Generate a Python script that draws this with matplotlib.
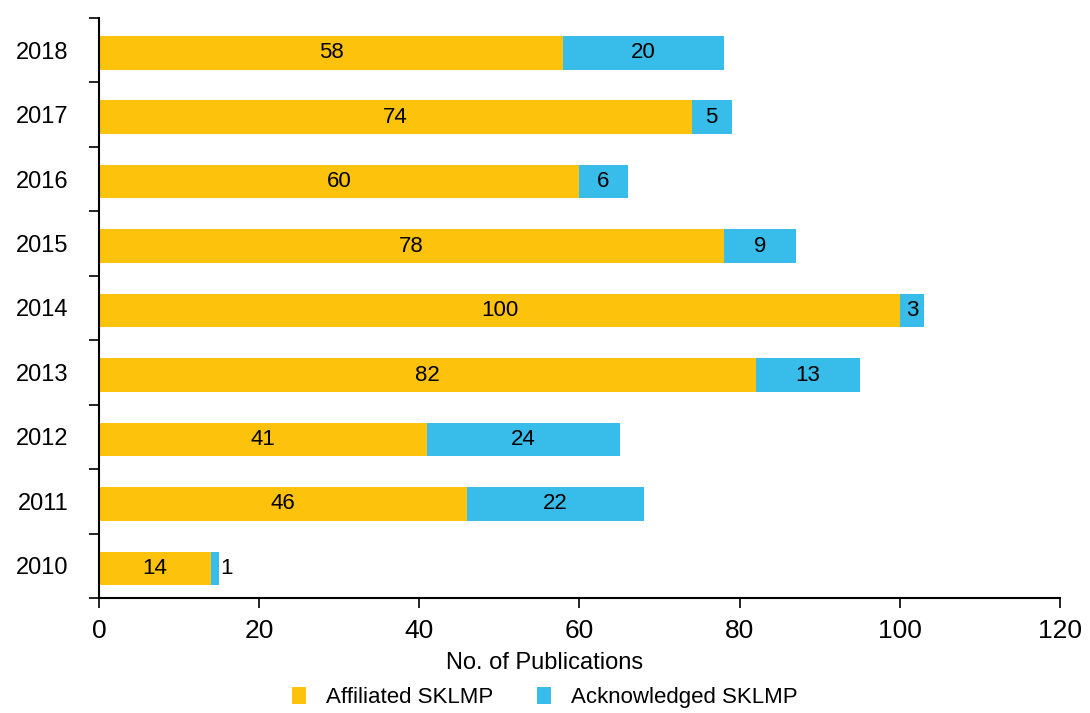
import matplotlib.pyplot as plt
import numpy as np

plt.rcParams["font.family"] = ["Liberation Sans", "DejaVu Sans"]

years = ["2010", "2011", "2012", "2013", "2014", "2015", "2016", "2017", "2018"]
affiliated = [14, 46, 41, 82, 100, 78, 60, 74, 58]
acknowledged = [1, 22, 24, 13, 3, 9, 6, 5, 20]

gold = "#FCC20C"
blue = "#38BCE9"

fig = plt.figure(figsize=(10.9, 7.13), dpi=100)
ax = fig.add_axes([0.0908, 0.1613, 0.8817, 0.8135])

y = np.arange(len(years))
h = 0.52
ax.barh(y - 0.04, affiliated, height=h, color=gold, label="Affiliated SKLMP")
ax.barh(y - 0.04, acknowledged, left=affiliated, height=h, color=blue,
        label="Acknowledged SKLMP")

for yi, a, b in zip(y - 0.04, affiliated, acknowledged):
    ax.text(a / 2, yi, str(a), ha="center", va="center", fontsize=16)
    if b >= 3:
        ax.text(a + b / 2, yi, str(b), ha="center", va="center", fontsize=16)
    else:
        ax.text(a + b + 0.2, yi, str(b), ha="left", va="center", fontsize=16)

ax.set_xlim(0, 120)
ax.set_ylim(-0.5, len(years) - 0.5)
ax.set_xticks(range(0, 121, 20))
ax.tick_params(axis="x", labelsize=19, length=7, width=1.2, direction="out",
               pad=8)
ax.set_yticks(y)
ax.set_yticklabels(years)
ax.tick_params(axis="y", which="major", length=0, labelsize=17, pad=22)
ax.set_yticks(np.arange(-0.5, len(years)), minor=True)
ax.tick_params(axis="y", which="minor", length=7, width=1.2, direction="out")

for side in ("top", "right"):
    ax.spines[side].set_visible(False)
for side in ("left", "bottom"):
    ax.spines[side].set_linewidth(1.5)

ax.set_xlabel("No. of Publications", fontsize=17)
ax.xaxis.set_label_coords(0.464, -0.112)
ax.xaxis.label.set_va("center")
ax.legend(loc="center", bbox_to_anchor=(0.464, -0.172), ncol=2,
          frameon=False, fontsize=16, handlelength=0.6, handleheight=0.75,
          columnspacing=2.0, handletextpad=0.9)

fig.savefig("out.png", dpi=100)
